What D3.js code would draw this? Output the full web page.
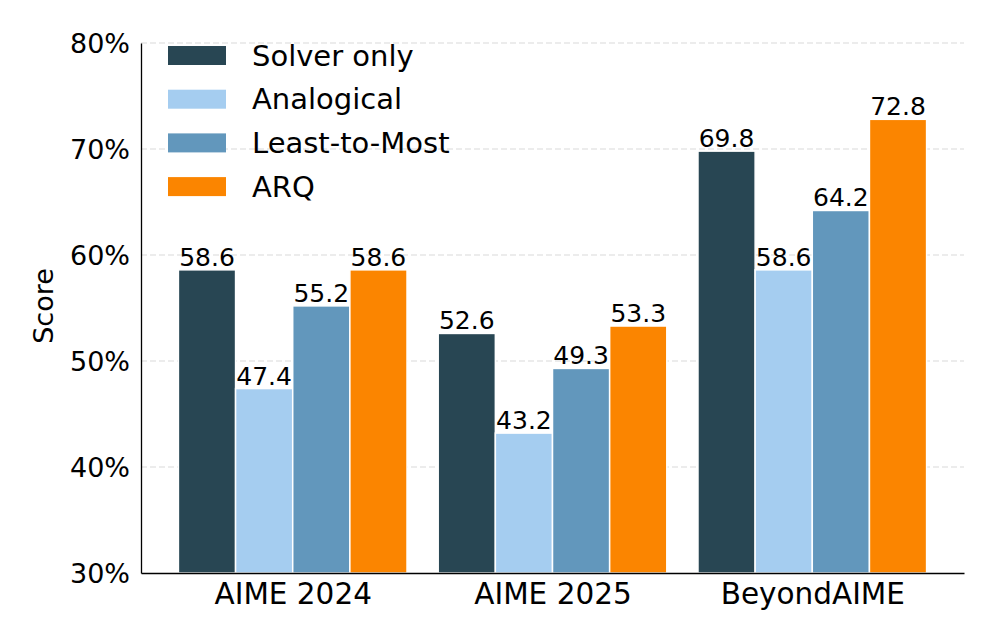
<!DOCTYPE html>
<html lang="en">
  <head>
    <meta charset="UTF-8" />
    <title>Score by Benchmark</title>
    <script src="https://d3js.org/d3.v7.min.js"></script>
    <style>
      body {
        margin: 0;
        background: #fff;
      }
      svg text {
        font-family: "DejaVu Sans", sans-serif;
        fill: #000;
      }
      .grid line {
        stroke: #d9d9d9;
        stroke-dasharray: 6 3;
        stroke-width: 1;
      }
    </style>
  </head>
  <body>
    <svg id="chart" width="996" height="641"></svg>
    <script>
      // Data
      const categories = ["AIME 2024", "AIME 2025", "BeyondAIME"];
      const seriesNames = ["Solver only", "Analogical", "Least-to-Most", "ARQ"];
      const solverOnly = [58.6, 52.6, 69.8];
      const analogical = [47.4, 43.2, 58.6];
      const leastToMost = [55.2, 49.3, 64.2];
      const arq = [58.6, 53.3, 72.8];
      const yTicks = [30, 40, 50, 60, 70, 80];

      const seriesValues = [solverOnly, analogical, leastToMost, arq];
      const colors = ["#284653", "#a5cdf0", "#6297bc", "#fb8500"];

      const svg = d3.select("#chart");
      const plot = { left: 141, right: 964, top: 43, bottom: 573 };
      const barW = 0.22;

      const x = d3.scaleLinear().domain([-0.584, 2.584]).range([plot.left, plot.right]);
      const y = d3.scaleLinear().domain([30, 80]).range([plot.bottom, plot.top]);

      // dashed grid
      svg
        .append("g")
        .attr("class", "grid")
        .selectAll("line")
        .data(yTicks.slice(1))
        .enter()
        .append("line")
        .attr("x1", plot.left)
        .attr("x2", plot.right)
        .attr("y1", (d) => y(d))
        .attr("y2", (d) => y(d));

      // bars + value labels
      const pw = x(barW) - x(0);
      seriesValues.forEach((vals, j) => {
        const g = svg.append("g");
        g.selectAll("rect")
          .data(vals)
          .enter()
          .append("rect")
          .attr("x", (d, i) => x(i + (j - 1.5) * barW) - pw / 2)
          .attr("y", (d) => y(d))
          .attr("width", pw)
          .attr("height", (d) => y(30) - y(d))
          .attr("fill", colors[j])
          .attr("stroke", "#fff")
          .attr("stroke-width", 1.5);

        g.selectAll("text")
          .data(vals)
          .enter()
          .append("text")
          .attr("x", (d, i) => x(i + (j - 1.5) * barW))
          .attr("y", (d) => y(d) - 4)
          .attr("text-anchor", "middle")
          .style("font-size", "25px")
          .text((d) => d.toFixed(1));
      });

      // y axis
      const yAxis = svg
        .append("g")
        .attr("transform", `translate(${plot.left},0)`)
        .call(
          d3.axisLeft(y).tickValues(yTicks).tickSize(0).tickPadding(11)
            .tickFormat((d) => d + "%")
        );
      yAxis.select(".domain").attr("stroke", "#000").attr("stroke-width", 1.3);
      yAxis.selectAll("text").style("font-size", "27px").attr("dy", "0.35em");

      // x axis
      const xAxis = svg
        .append("g")
        .attr("transform", `translate(0,${plot.bottom})`)
        .call(
          d3.axisBottom(x).tickValues(d3.range(categories.length)).tickSize(0)
            .tickPadding(9).tickFormat((i) => categories[i])
        );
      xAxis.select(".domain").attr("stroke", "#000").attr("stroke-width", 1.3);
      xAxis.selectAll("text").style("font-size", "29.5px").attr("dy", "0.73em");

      // y label
      svg
        .append("text")
        .attr("transform", "translate(53,306) rotate(-90)")
        .attr("text-anchor", "middle")
        .style("font-size", "27px")
        .text("Score");

      // legend
      const legend = svg.append("g");
      seriesNames.forEach((name, j) => {
        const cy = 55.5 + j * 43.7;
        legend
          .append("rect")
          .attr("x", 168)
          .attr("y", cy - 9.5)
          .attr("width", 58)
          .attr("height", 19)
          .attr("fill", colors[j]);
        legend
          .append("text")
          .attr("x", 252)
          .attr("y", cy)
          .attr("dy", "0.35em")
          .style("font-size", "29px")
          .text(name);
      });
    </script>
  </body>
</html>
